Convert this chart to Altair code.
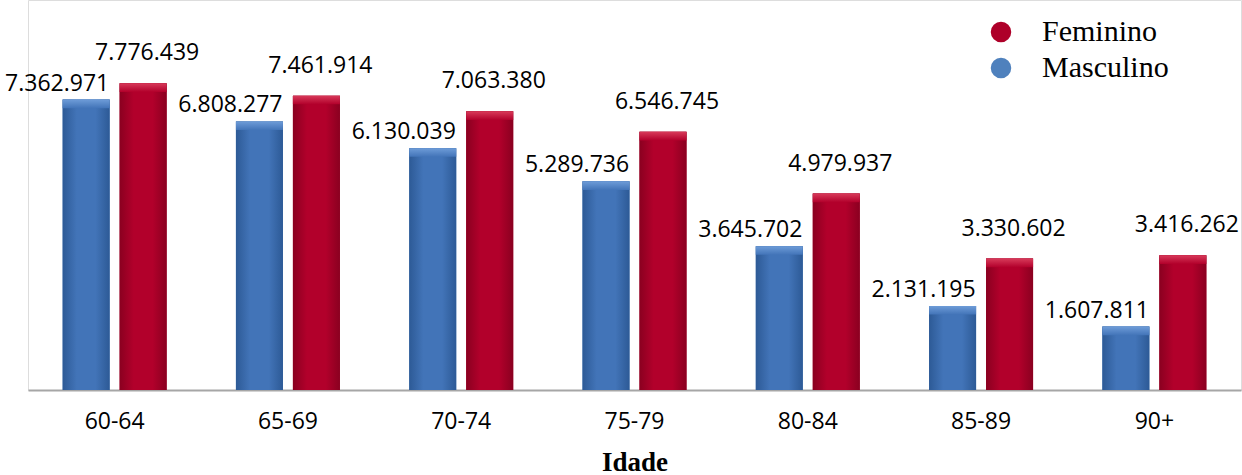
import altair as alt
import pandas as pd

idades = ["60-64", "65-69", "70-74", "75-79", "80-84", "85-89", "90+"]
masculino = [7362971, 6808277, 6130039, 5289736, 3645702, 2131195, 1607811]
feminino = [7776439, 7461914, 7063380, 6546745, 4979937, 3330602, 3416262]

rows = []
for i, ida in enumerate(idades):
    rows.append({"Idade": ida, "Sexo": "Masculino", "v": masculino[i]})
    rows.append({"Idade": ida, "Sexo": "Feminino", "v": feminino[i]})
df = pd.DataFrame(rows)
df["label"] = df["v"].map(lambda x: f"{x:,}".replace(",", "."))

sexo_order = ["Masculino", "Feminino"]
RED = "#AE0029"

x = alt.X("Idade:N", sort=idades,
          scale=alt.Scale(paddingInner=0, paddingOuter=0),
          axis=alt.Axis(title="Idade", labelAngle=0, labelFont="Open Sans", labelFontSize=23,
                        labelColor="#000000", labelPadding=20, ticks=False,
                        domainColor="#A6A6A6", domainWidth=2,
                        titleFont="Liberation Serif", titleFontSize=27, titleFontWeight="bold",
                        titleColor="#000000", titleY=80, titleBaseline="alphabetic"))
xoff = alt.XOffset("Sexo:N", sort=sexo_order,
                   scale=alt.Scale(paddingInner=0.175, paddingOuter=0.608))
y = alt.Y("v:Q", scale=alt.Scale(domain=[0, 9886000], nice=False), axis=None)

base = alt.Chart(df)

legend_bars = base.mark_bar().encode(
    x=x, xOffset=xoff, y=y,
    color=alt.Color("Sexo:N", sort=["Feminino", "Masculino"],
                    scale=alt.Scale(domain=["Feminino", "Masculino"], range=[RED, "#4F81BD"]),
                    legend=alt.Legend(title=None, orient="none", legendX=958, legendY=17,
                                      symbolType="circle", symbolSize=420, symbolStrokeWidth=0,
                                      labelFont="Liberation Serif", labelFontSize=30,
                                      labelColor="#000000", labelOffset=26, rowPadding=6,
                                      padding=0)),
)

def grad(c_edge, c_mid):
    return alt.Gradient(gradient="linear", x1=0, x2=1, y1=0, y2=0,
                        stops=[alt.GradientStop(color=c_edge, offset=0),
                               alt.GradientStop(color=c_mid, offset=0.3),
                               alt.GradientStop(color=c_mid, offset=0.7),
                               alt.GradientStop(color=c_edge, offset=1)])

def vgrad(c_top, c_bot):
    return alt.Gradient(gradient="linear", x1=0, x2=0, y1=0, y2=1,
                        stops=[alt.GradientStop(color=c_top, offset=0),
                               alt.GradientStop(color=c_bot, offset=1)])

blue_bars = base.transform_filter(alt.datum.Sexo == "Masculino").mark_bar(
    color=grad("#2D5A96", "#4274B8")).encode(x=x, xOffset=xoff, y=y)
red_bars = base.transform_filter(alt.datum.Sexo == "Feminino").mark_bar(
    color=grad("#8A0020", "#B2002B")).encode(x=x, xOffset=xoff, y=y)

blue_cap = base.transform_filter(alt.datum.Sexo == "Masculino").transform_calculate(
    v2="datum.v - 220000").mark_bar(color=vgrad("#6E9CD8", "#4274B8")).encode(
    x=x, xOffset=xoff, y=y, y2="v2:Q")
red_cap = base.transform_filter(alt.datum.Sexo == "Feminino").transform_calculate(
    v2="datum.v - 220000").mark_bar(color=vgrad("#D83A5A", "#B2002B")).encode(
    x=x, xOffset=xoff, y=y, y2="v2:Q")

txt_m = base.transform_filter(alt.datum.Sexo == "Masculino").mark_text(
    font="Open Sans", fontSize=23, color="#000000", align="center",
    baseline="alphabetic", dx=-29, dy=-9).encode(x=x, xOffset=xoff, y=y, text="label:N")
txt_f = base.transform_filter(alt.datum.Sexo == "Feminino").mark_text(
    font="Open Sans", fontSize=23, color="#000000", align="center",
    baseline="alphabetic", dx=4, dy=-23).encode(x=x, xOffset=xoff, y=y, text="label:N")

chart = alt.layer(legend_bars, blue_bars, red_bars, blue_cap, red_cap, txt_m, txt_f).properties(
    width=1213, height=390,
    autosize=alt.AutoSizeParams(type="none"),
    padding={"left": 28, "top": 0, "right": 1, "bottom": 85},
).configure_view(stroke=None).configure(background="#FFFFFF")

chart.save("out.html", embed_options={"renderer": "svg", "actions": False})
